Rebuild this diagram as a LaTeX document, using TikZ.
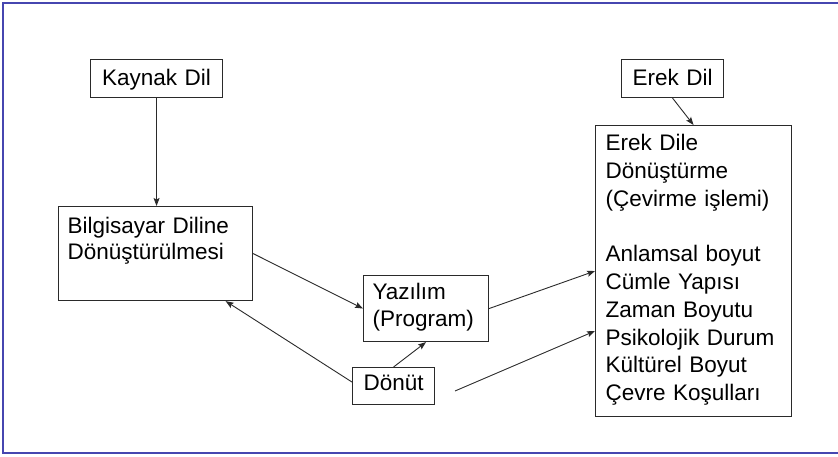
\documentclass[tikz,border=0pt]{standalone}
\usepackage{fontspec}
\setmainfont{Liberation Sans}
\usetikzlibrary{arrows.meta,calc}
\definecolor{framecol}{HTML}{4646B0}
\definecolor{linecol}{HTML}{2A2A2A}
\begin{document}
\begin{tikzpicture}[x=1pt,y=-1pt,
  box/.style={draw=linecol, line width=1.1pt, rectangle, anchor=north west,
    inner ysep=0pt, font=\fontsize{22.5}{27.5}\selectfont},
  conn/.style={draw=linecol, line width=0.9pt, -{Stealth[length=8pt,width=6pt,inset=1.5pt]}}]
\useasboundingbox (0,0) rectangle (838,457);
% frame (open on the right)
\draw[framecol, line width=2.5pt] (838,3) -- (3,3) -- (3,453) -- (838,453);
% boxes
\node[box, inner xsep=6pt, text width=120pt, align=center, text height=26pt, text depth=12pt]
  (kaynak) at (90,59) {Kaynak Dil};
\node[box, inner xsep=6pt, text width=90pt, align=center, text height=26pt, text depth=12pt]
  (erek) at (621,59) {Erek Dil};
\node[box, inner xsep=9pt, text width=176pt, align=left, text height=27pt, text depth=67pt,
  font=\fontsize{22.5}{26}\selectfont]
  (bilgi) at (58,206) {Bilgisayar Diline\\Dönüştürülmesi};
\node[box, inner xsep=9pt, text width=107pt, align=left, text height=24pt, text depth=42pt,
  font=\fontsize{22.5}{27}\selectfont]
  (yazilim) at (363,275) {Yazılım\\(Program)};
\node[box, inner xsep=11pt, text width=60pt, align=left, text height=23pt, text depth=14pt]
  (donut) at (352,367) {Dönüt};
\node[box, inner xsep=10pt, text width=176pt, align=left, text height=25pt, text depth=266pt,
  font=\fontsize{22.5}{27.8}\selectfont]
  (rbox) at (595,125) {Erek Dile\\Dönüştürme\\(Çevirme işlemi)\\[27.8pt]Anlamsal boyut\\Cümle Yapısı\\Zaman Boyutu\\Psikolojik Durum\\Kültürel Boyut\\Çevre Koşulları};
% connectors
\draw[conn] (kaynak.south) -- (kaynak.south |- bilgi.north);
\draw[conn] (erek.south) -- (rbox.north);
\draw[conn] (bilgi.east) -- (yazilim.west);
\draw[conn] (yazilim.east) -- (rbox.west);
\draw[conn] (donut.north) -- (yazilim.south);
\draw[conn] ($(donut.west)+(0,-4)$) -- ($(bilgi.south east)+(-27.5,0)$);
\coordinate (free) at (455,391);
\draw[conn] (free) -- ($(rbox.north west)+(0,206)$);
\end{tikzpicture}
\end{document}
